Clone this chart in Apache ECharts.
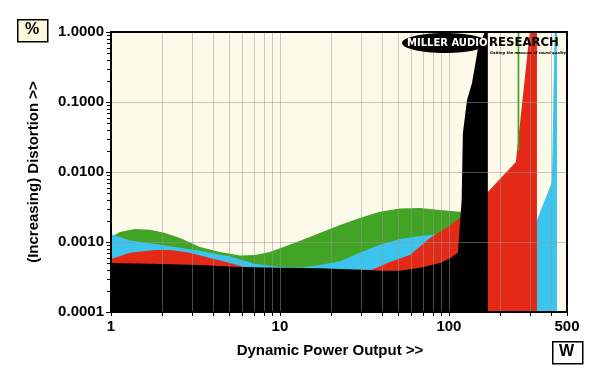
<!DOCTYPE html>
<html><head><meta charset="utf-8">
<script src="https://cdn.jsdelivr.net/npm/echarts@6/dist/echarts.min.js"></script>
<style>html,body{margin:0;padding:0;background:#fff}#c{width:600px;height:377px}</style>
</head><body><div id="c"></div>
<script>
// ---- data ----
const xTickLabels = ['1', '10', '100', '500'];
const yTickLabels = ['0.0001', '0.0010', '0.0100', '0.1000', '1.0000'];
const xMin = 1, xMax = 500, yMin = 0.0001, yMax = 1;

const powerGreen = [1, 1.13, 1.39, 1.70, 2.09, 2.56, 3.36, 4.42, 5.8, 7.1, 8.72, 11.4, 15.0, 17.2, 22.7, 29.7, 39, 51.4, 67.5, 88.6, 116, 170, 249, 255];
const distGreen  = [0.00118, 0.00139, 0.00153, 0.0015, 0.00135, 0.00114, 0.00085, 0.00072, 0.00064, 0.00065, 0.00072, 0.00091, 0.00118, 0.00134, 0.00175, 0.0022, 0.0027, 0.003, 0.00306, 0.00286, 0.0027, 0.0025, 0.01, 0.012];
// the green channel's vertical failure spike (power range, distortion range)
const powerGreenSpike = [255, 261];
const distGreenSpike  = [0.02, 1.0];

const powerCyan = [1, 1.30, 1.95, 3.36, 5.06, 7.1, 10, 13.1, 17.2, 22.7, 29.7, 39, 51.4, 67.5, 88.6, 170, 332, 407, 424, 436];
const distCyan  = [0.0013, 0.00105, 0.00091, 0.00075, 0.00062, 0.00049, 0.00044, 0.00043, 0.00047, 0.00053, 0.0007, 0.00091, 0.0011, 0.00122, 0.00131, 0.0015, 0.00206, 0.0072, 1.5, 1.5];

const powerRed = [1, 1.30, 1.82, 2.23, 2.93, 3.85, 5.06, 6.2, 10, 20, 35, 44.8, 58.8, 77.3, 101, 116, 170, 249, 301, 332];
const distRed  = [0.00057, 0.0007, 0.00077, 0.00077, 0.0007, 0.00059, 0.0005, 0.00044, 0.0004, 0.0004, 0.0004, 0.00052, 0.00065, 0.00114, 0.0017, 0.0022, 0.0052, 0.0139, 1.0, 1.5];

const powerBlack = [1, 1.7, 2.23, 3.36, 5.8, 10, 17.2, 29.7, 39, 51.4, 67.5, 88.6, 101, 113, 119, 121, 128, 137, 148, 163, 170];
const distBlack  = [0.0005, 0.00049, 0.00048, 0.00047, 0.00044, 0.00043, 0.00042, 0.0004, 0.00039, 0.00039, 0.00043, 0.0005, 0.00058, 0.0007, 0.004, 0.036, 0.107, 0.187, 0.55, 1.0, 1.5];

const xGridValues = [2, 3, 4, 5, 6, 7, 8, 9, 10, 20, 30, 40, 50, 60, 70, 80, 90, 100, 200, 300, 400];
const yGridValues = [0.001, 0.01, 0.1];
const yMinorValues = [];
[0.0001, 0.001, 0.01, 0.1].forEach(d => { for (let k = 2; k <= 9; k++) yMinorValues.push(+(d * k).toPrecision(3)); });

// ---- chart ----
const FONT = '"Liberation Sans", Arial, sans-serif';
const chart = echarts.init(document.getElementById('c'), null, { renderer: 'canvas' });

function areaSeries(name, xs, ys, color) {
  return {
    name, type: 'line', xAxisIndex: 0, yAxisIndex: 0,
    data: xs.map((x, i) => [x, ys[i]]),
    symbol: 'none', showSymbol: false, smooth: false,
    lineStyle: { width: 0, color }, itemStyle: { color },
    areaStyle: { color, opacity: 1, origin: 'start' },
    clip: true, silent: true, z: 2
  };
}

const gridLineColor = 'rgba(150,150,150,0.5)';

const option = {
  animation: false,
  backgroundColor: '#ffffff',
  grid: { left: 111, right: 33, top: 32, bottom: 65, show: true, backgroundColor: '#fcfae9', borderWidth: 0 },
  xAxis: [{
    type: 'log', logBase: 10, min: xMin, max: xMax, position: 'bottom', z: 10,
    name: 'Dynamic Power Output >>', nameLocation: 'middle', nameGap: 31,
    nameTextStyle: { fontFamily: FONT, fontWeight: 'bold', fontSize: 15, color: '#000', padding: [0, 18, 0, 0] },
    axisLine: { show: true, lineStyle: { color: '#000', width: 2 } },
    axisTick: { show: true, length: 4, lineStyle: { color: '#000', width: 1 } },
    splitLine: { show: false }, minorTick: { show: false },
    axisLabel: {
      fontFamily: FONT, fontWeight: 'bold', fontSize: 15, color: '#000', margin: 7,
      showMinLabel: true, showMaxLabel: true,
      formatter: v => { const l = Math.log10(v); const i = [0, 1, 2, Math.log10(500)].findIndex(t => Math.abs(t - l) < 0.01); return i >= 0 ? xTickLabels[i] : ''; }
    }
  }, {
    type: 'log', logBase: 10, min: xMin, max: xMax, position: 'top', z: 10,
    axisLine: { show: true, lineStyle: { color: '#000', width: 2 } },
    axisTick: { show: false }, axisLabel: { show: false }, splitLine: { show: false }
  }],
  yAxis: [{
    type: 'log', logBase: 10, min: yMin, max: yMax, position: 'left', z: 10,
    name: '(Increasing) Distortion >>', nameLocation: 'middle', nameGap: 70, nameRotate: 90,
    nameTextStyle: { fontFamily: FONT, fontWeight: 'bold', fontSize: 15, color: '#000' },
    axisLine: { show: true, lineStyle: { color: '#000', width: 2 } },
    axisTick: { show: true, length: 5, lineStyle: { color: '#000', width: 1 } },
    splitLine: { show: false },
    axisLabel: {
      fontFamily: FONT, fontWeight: 'bold', fontSize: 15, color: '#000', margin: 7,
      formatter: v => { const i = Math.round(Math.log10(v)) + 4; return yTickLabels[i] || ''; }
    }
  }, {
    type: 'log', logBase: 10, min: yMin, max: yMax, position: 'right', z: 10,
    axisLine: { show: true, lineStyle: { color: '#000', width: 2 } },
    axisTick: { show: false }, axisLabel: { show: false }, splitLine: { show: false }
  }],
  series: [
    areaSeries('green', powerGreen, distGreen, '#41a424'),
    areaSeries('cyan', powerCyan, distCyan, '#3ac4ee'),
    areaSeries('red', powerRed, distRed, '#e42a17'),
    areaSeries('black', powerBlack, distBlack, '#000000'),
    {
      type: 'custom', coordinateSystem: 'cartesian2d', xAxisIndex: 0, yAxisIndex: 0, z: 3, silent: true, clip: true,
      data: [[powerGreenSpike[0], distGreenSpike[0], powerGreenSpike[1], distGreenSpike[1]]],
      encode: { x: [0, 2], y: [1, 3] },
      renderItem: (params, api) => {
        const p0 = api.coord([api.value(0), api.value(1)]);
        const p1 = api.coord([api.value(2), api.value(3)]);
        return { type: 'rect', shape: { x: p0[0], y: p1[1], width: Math.max(1.5, p1[0] - p0[0]), height: p0[1] - p1[1] }, style: { fill: '#41a424' } };
      }
    },
    {
      type: 'custom', coordinateSystem: 'cartesian2d', xAxisIndex: 0, yAxisIndex: 0, z: 5, silent: true, clip: false,
      data: xGridValues.map(v => [v, yMin]), encode: { x: 0, y: 1 },
      renderItem: (params, api) => {
        const v = api.value(0);
        const pt = api.coord([v, yMax]), pb = api.coord([v, yMin]);
        const x = Math.round(pt[0]) + 0.5;
        return { type: 'group', children: [
          { type: 'line', shape: { x1: x, y1: pt[1] + 1, x2: x, y2: pb[1] - 1 }, style: { stroke: gridLineColor, lineWidth: 1 } },
          { type: 'line', shape: { x1: x, y1: pb[1] + 1, x2: x, y2: pb[1] + 4 }, style: { stroke: '#000', lineWidth: 1 } }
        ] };
      }
    },
    {
      type: 'custom', coordinateSystem: 'cartesian2d', xAxisIndex: 0, yAxisIndex: 0, z: 5, silent: true, clip: false,
      data: yGridValues.map(v => [xMin, v]), encode: { x: 0, y: 1 },
      renderItem: (params, api) => {
        const v = api.value(1);
        const pl = api.coord([xMin, v]), pr = api.coord([xMax, v]);
        const y = Math.round(pl[1]) + 0.5;
        return { type: 'line', shape: { x1: pl[0] + 1, y1: y, x2: pr[0] - 1, y2: y }, style: { stroke: gridLineColor, lineWidth: 1 } };
      }
    },
    {
      type: 'custom', coordinateSystem: 'cartesian2d', xAxisIndex: 0, yAxisIndex: 0, z: 5, silent: true, clip: false,
      data: yMinorValues.map(v => [xMin, v]), encode: { x: 0, y: 1 },
      renderItem: (params, api) => {
        const v = api.value(1);
        const p = api.coord([xMin, v]);
        const y = Math.round(p[1]) + 0.5;
        return { type: 'line', shape: { x1: p[0] - 4, y1: y, x2: p[0] - 1, y2: y }, style: { stroke: '#000', lineWidth: 1 } };
      }
    }
  ],
  graphic: [
    { type: 'rect', left: 17, top: 19, shape: { width: 30, height: 22 }, style: { fill: '#fbf8dc', stroke: '#000', lineWidth: 1.5 }, z: 20 },
    { type: 'text', left: 25, top: 22, style: { text: '%', font: 'bold 16px ' + FONT, fill: '#000' }, z: 21 },
    { type: 'rect', left: 552, top: 341, shape: { width: 30, height: 22 }, style: { fill: '#ffffff', stroke: '#000', lineWidth: 1.5 }, z: 20 },
    { type: 'text', left: 559, top: 344, style: { text: 'W', font: 'bold 16px ' + FONT, fill: '#000' }, z: 21 },
    { type: 'ellipse', shape: { cx: 445, cy: 43, rx: 43, ry: 10 }, style: { fill: '#000' }, z: 20 },
    { type: 'text', left: 407, top: 38, style: { text: 'MILLER AUDIO', font: 'bold 10px "DejaVu Sans"', fill: '#fff' }, z: 21 },
    { type: 'text', left: 489, top: 36, style: { text: 'RESEARCH', font: 'bold 13px "DejaVu Sans Condensed", "DejaVu Sans"', fill: '#000' }, z: 21 },
    { type: 'text', left: 490, top: 51, style: { text: 'Getting the measure of sound quality', font: 'italic bold 3.6px "DejaVu Sans"', fill: '#000' }, z: 21 }
  ]
};
chart.setOption(option);
</script>
</body></html>
